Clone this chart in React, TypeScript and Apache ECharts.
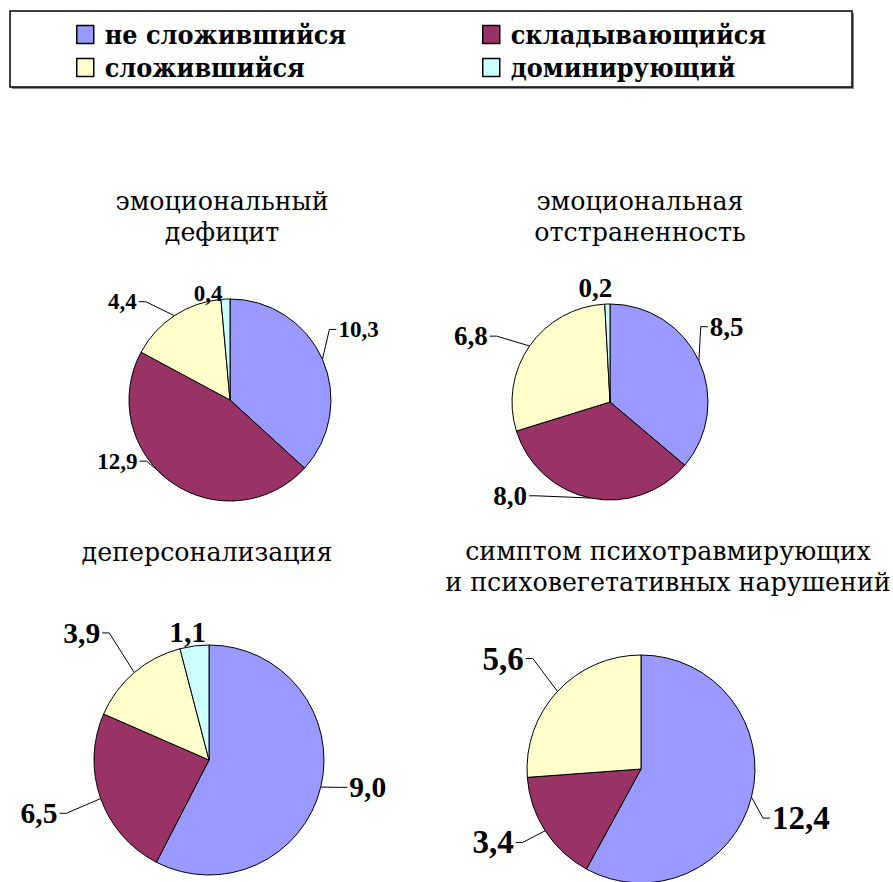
import React, { useEffect, useRef } from "react";
import * as echarts from "echarts";

const categories = ["не сложившийся", "складывающийся", "сложившийся", "доминирующий"];
const colors = ["#9999FF", "#993366", "#FFFFCC", "#CCFFFF"];

const titles = [
  "эмоциональный\nдефицит",
  "эмоциональная\nотстраненность",
  "деперсонализация",
  "симптом психотравмирующих\nи психовегетативных нарушений",
];

// slice sizes as drawn in the picture
const values1 = [10.3, 12.9, 4.4, 0.4];
const values2 = [8.5, 8.0, 6.8, 0.2];
const values3 = [15.6, 6.5, 3.9, 1.1];
const values4 = [12.4, 3.4, 5.6];

// label texts as printed in the picture
const labels1 = ["10,3", "12,9", "4,4", "0,4"];
const labels2 = ["8,5", "8,0", "6,8", "0,2"];
const labels3 = ["9,0", "6,5", "3,9", "1,1"];
const labels4 = ["12,4", "3,4", "5,6"];

const CYR = "DejaVu Serif";
const CYR_COND = "DejaVu Serif Condensed";
const DIG = "Liberation Serif";

function makePie(
  values: number[],
  labels: string[],
  center: number[],
  radius: number,
  fontSize: number,
  len: number,
  len2: number,
  small: number[],
  offs: number[][]
) {
  return {
    type: "pie",
    center,
    radius,
    startAngle: 90,
    clockwise: true,
    avoidLabelOverlap: false,
    emphasis: { disabled: true },
    itemStyle: { borderColor: "#000", borderWidth: 1 },
    label: {
      show: true,
      position: "outside",
      formatter: (p: any) => labels[p.dataIndex],
      color: "#000",
      fontFamily: DIG,
      fontWeight: "bold",
      fontSize,
      distanceToLabelLine: 3,
    },
    labelLine: { show: true, length: len, length2: len2, smooth: false, lineStyle: { color: "#000", width: 1 } },
    labelLayout: (p: any) => {
      const o = offs[p.dataIndex] || [0, 0];
      const r = p.labelRect;
      const nx = r.x + o[0];
      const ny = r.y + o[1];
      const res: any = { x: nx, y: ny, align: "left", verticalAlign: "top" };
      const pts = p.labelLinePoints;
      if (pts && pts.length) {
        const isLeft = nx + r.width / 2 < center[0];
        const ay = ny + r.height / 2;
        const ax = isLeft ? nx + r.width + 2 : nx - 2;
        const bx = isLeft ? ax + 7 : ax - 7;
        res.labelLinePoints = [pts[0], [bx, ay], [ax, ay]];
      }
      return res;
    },
    data: values.map((v, i) => ({
      name: categories[i],
      value: v,
      itemStyle: { color: colors[i] },
      ...(small.includes(i) ? { labelLine: { show: false, length: 2, length2: 0 } } : {}),
    })),
  };
}

export default function App() {
  const ref = useRef<HTMLDivElement>(null);
  useEffect(() => {
    if (!ref.current) return;
    const chart = echarts.init(ref.current, null, { renderer: "svg" });
    const legendPos = [
      [76, 21],
      [482, 21],
      [76, 54],
      [482, 54],
    ];
    const option: any = {
      animation: false,
      backgroundColor: "#fff",
      color: colors,
      title: [
        { text: titles[0], left: 222, top: 186, textAlign: "center" },
        { text: titles[1], left: 640, top: 186, textAlign: "center" },
        { text: titles[2], left: 207, top: 537, textAlign: "center" },
        { text: titles[3], left: 668, top: 536, textAlign: "center" },
      ].map((t) => ({
        ...t,
        padding: 0,
        textStyle: { fontFamily: CYR, fontWeight: "normal", fontSize: 25.3, lineHeight: 31, color: "#000" },
      })),
      legend: categories.map((c, i) => ({
        data: [c],
        left: legendPos[i][0],
        top: legendPos[i][1],
        padding: 0,
        orient: "horizontal",
        icon: "rect",
        itemWidth: 17,
        itemHeight: 18,
        itemGap: 0,
        selectedMode: false,
        itemStyle: { borderColor: "#000", borderWidth: 1.5 },
        textStyle: { fontFamily: CYR_COND, fontWeight: "bold", fontSize: 26.7, color: "#000", padding: [0, 0, 0, 6] },
      })),
      graphic: [
        { type: "rect", shape: { x: 12, y: 13, width: 842, height: 76 }, style: { fill: "#888" }, z: -2 },
        { type: "rect", shape: { x: 10, y: 11, width: 842, height: 76 }, style: { fill: "#fff", stroke: "#000", lineWidth: 1.5 }, z: -1 },
      ],
      series: [
        makePie(values1, labels1, [230, 400], 101, 23, 12, 10, [3], [[-8, -25], [-14, -31], [-18, -4], [0, -4]]),
        makePie(values2, labels2, [610, 402], 98, 27, 12, 10, [3], [[-13, -29], [-48, -14], [-19, -3], [8, -14]]),
        makePie(values3, labels3, [209, 760], 115, 29.5, 14, 12, [3], [[0, -3], [-15, 10], [-10, -29], [15, -12]]),
        makePie(values4, labels4, [641, 769], 114, 33, 16, 12, [], [[-10, 17], [-3, 3], [-7, -22]]),
      ],
    };
    chart.setOption(option);
    return () => chart.dispose();
  }, []);
  return <div ref={ref} style={{ position: "absolute", left: 0, top: 0, width: 893, height: 882 }} />;
}
